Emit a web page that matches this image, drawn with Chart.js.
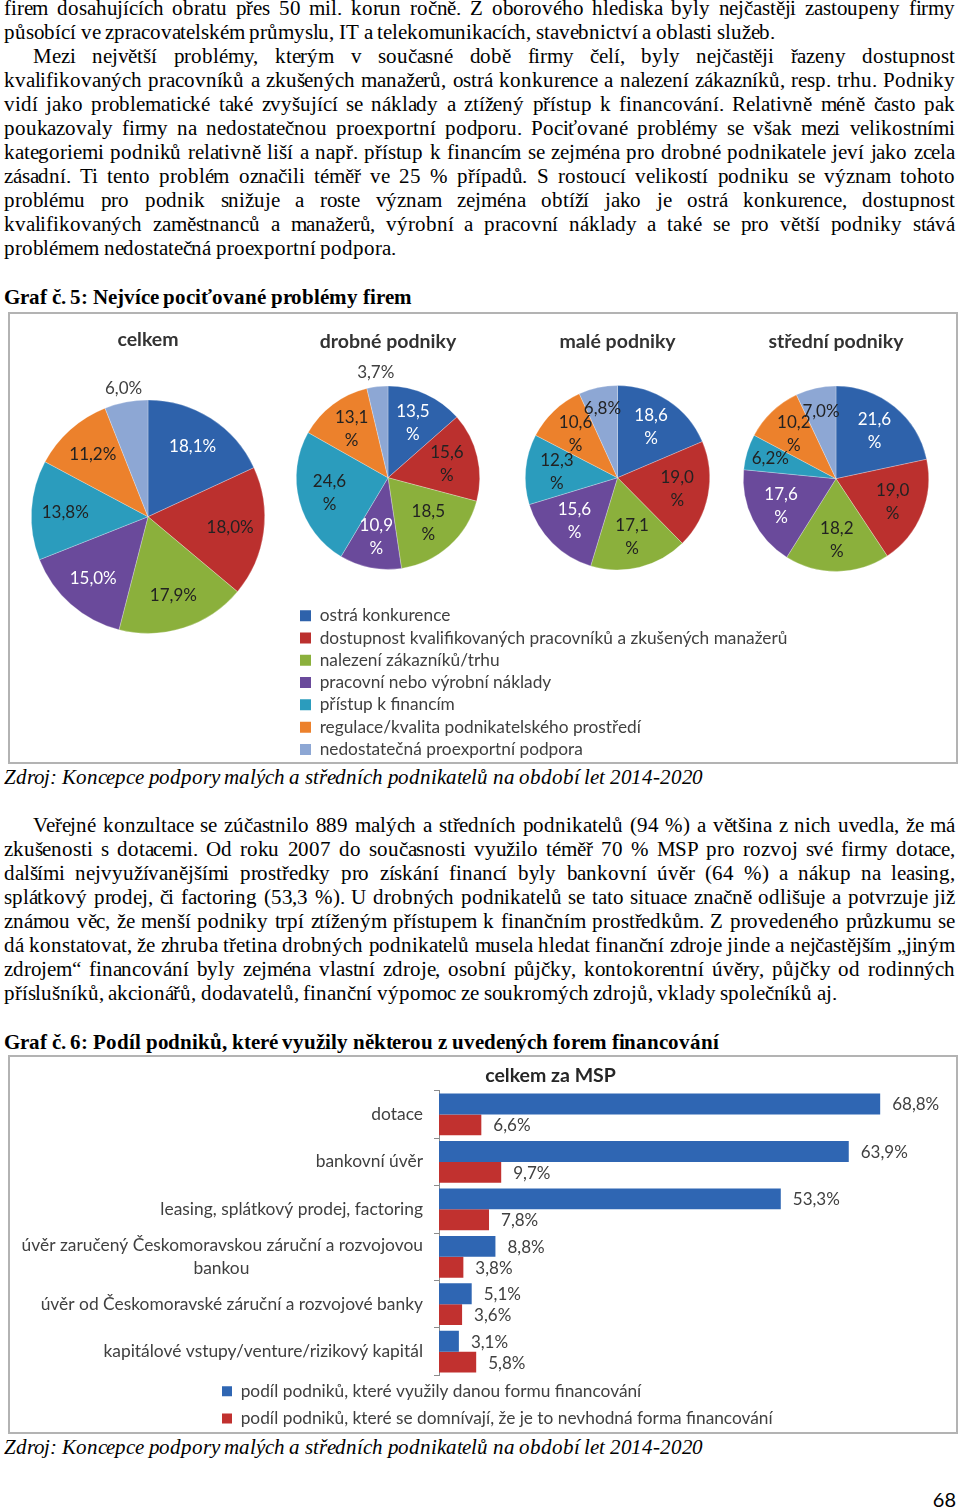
<!DOCTYPE html>
<html lang="cs">
<head>
<meta charset="utf-8">
<title>Graf č. 5 a 6</title>
<script src="https://cdn.jsdelivr.net/npm/chart.js@4.4.1/dist/chart.umd.min.js"></script>
<style>
@font-face{font-family:"DocSerif";src:local("Liberation Serif"),local("LiberationSerif"),local("Liberation Serif Regular"),local("LiberationSerif-Regular"),local("Times New Roman"),local("Tinos");font-weight:400;font-style:normal;}
@font-face{font-family:"DocSerif";src:local("Liberation Serif Bold"),local("LiberationSerif-Bold"),local("Times New Roman Bold");font-weight:700;font-style:normal;}
@font-face{font-family:"DocSerif";src:local("Liberation Serif Italic"),local("LiberationSerif-Italic"),local("Times New Roman Italic");font-weight:400;font-style:italic;}
html,body{margin:0;padding:0;background:#fff;}
body{width:960px;height:1509px;position:relative;overflow:hidden;font-family:"DocSerif","Liberation Serif","DejaVu Serif",serif;font-size:21px;color:#000;}
.ln{position:absolute;height:24px;line-height:24px;white-space:nowrap;font-family:"DocSerif","Liberation Serif","DejaVu Serif",serif;font-size:21px;letter-spacing:-0.13px;}
.hd{font-weight:bold;letter-spacing:-0.08px;}
.src{font-style:italic;letter-spacing:-0.15px;}
.box{position:absolute;border:2px solid #b3b3b3;box-sizing:border-box;}
canvas{position:absolute;}
#pg{position:absolute;right:4px;top:1486px;font-family:Lato,sans-serif;font-size:20px;line-height:26px;color:#000;}
</style>
</head>
<body>
<div id="text"></div>
<div class="box" style="left:8px;top:312px;width:950px;height:452px"></div>
<div class="box" style="left:8px;top:1055px;width:950px;height:379px"></div>
<canvas id="pie0"></canvas>
<canvas id="pie1"></canvas>
<canvas id="pie2"></canvas>
<canvas id="pie3"></canvas>
<canvas id="pieLegend" width="1100" height="180" style="left:295px;top:602px"></canvas>
<canvas id="bars" width="947" height="383" style="left:9px;top:1057px"></canvas>
<div id="pg">68</div>
<script>
// ---------- DATA ----------
const problemCategories = [
  'ostrá konkurence',
  'dostupnost kvalifikovaných pracovníků a zkušených manažerů',
  'nalezení zákazníků/trhu',
  'pracovní nebo výrobní náklady',
  'přístup k financím',
  'regulace/kvalita podnikatelského prostředí',
  'nedostatečná proexportní podpora'
];
const pieTitles = ['celkem', 'drobné podniky', 'malé podniky', 'střední podniky'];
const celkemValues  = [18.1, 18.0, 17.9, 15.0, 13.8, 11.2, 6.0];
const drobneValues  = [13.5, 15.6, 18.5, 10.9, 24.6, 13.1, 3.7];
const maleValues    = [18.6, 19.0, 17.1, 15.6, 12.3, 10.6, 6.8];
const stredniValues = [21.6, 19.0, 18.2, 17.6, 6.2, 10.2, 7.0];

const financingForms = [
  'dotace',
  'bankovní úvěr',
  'leasing, splátkový prodej, factoring',
  ['úvěr zaručený Českomoravskou záruční a rozvojovou', 'bankou'],
  'úvěr od Českomoravské záruční a rozvojové banky',
  'kapitálové vstupy/venture/rizikový kapitál'
];
const seriesNames = [
  'podíl podniků, které využily danou formu financování',
  'podíl podniků, které se domnívají, že je to nevhodná forma financování'
];
const usedValues       = [68.8, 63.9, 53.3, 8.8, 5.1, 3.1];
const unsuitableValues = [6.6, 9.7, 7.8, 3.8, 3.6, 5.8];
const barTitle = 'celkem za MSP';
const barAxisMax = 80;

// ---------- TEXT ----------
const para1 = [
  ['firem dosahujících obratu přes 50 mil. korun ročně. Z oborového hlediska byly nejčastěji zastoupeny firmy', 0, true],
  ['působící ve zpracovatelském průmyslu, IT a telekomunikacích, stavebnictví a oblasti služeb.', 0, false],
  ['Mezi největší problémy, kterým v současné době firmy čelí, byly nejčastěji řazeny dostupnost', 29, true],
  ['kvalifikovaných pracovníků a zkušených manažerů, ostrá konkurence a nalezení zákazníků, resp. trhu. Podniky', 0, true],
  ['vidí jako problematické také zvyšující se náklady a ztížený přístup k financování. Relativně méně často pak', 0, true],
  ['poukazovaly firmy na nedostatečnou proexportní podporu. Pociťované problémy se však mezi velikostními', 0, true],
  ['kategoriemi podniků relativně liší a např. přístup k financím se zejména pro drobné podnikatele jeví jako zcela', 0, true],
  ['zásadní. Ti tento problém označili téměř ve 25 % případů. S rostoucí velikostí podniku se význam tohoto', 0, true],
  ['problému pro podnik snižuje a roste význam zejména obtíží jako je ostrá konkurence, dostupnost', 0, true],
  ['kvalifikovaných zaměstnanců a manažerů, výrobní a pracovní náklady a také se pro větší podniky stává', 0, true],
  ['problémem nedostatečná proexportní podpora.', 0, false]
];
const para2 = [
  ['Veřejné konzultace se zúčastnilo 889 malých a středních podnikatelů (94 %) a většina z nich uvedla, že má', 29, true],
  ['zkušenosti s dotacemi. Od roku 2007 do současnosti využilo téměř 70 % MSP pro rozvoj své firmy dotace,', 0, true],
  ['dalšími nejvyužívanějšími prostředky pro získání financí byly bankovní úvěr (64 %) a nákup na leasing,', 0, true],
  ['splátkový prodej, či factoring (53,3 %). U drobných podnikatelů se tato situace značně odlišuje a potvrzuje již', 0, true],
  ['známou věc, že menší podniky trpí ztíženým přístupem k finančním prostředkům. Z provedeného průzkumu se', 0, true],
  ['dá konstatovat, že zhruba třetina drobných podnikatelů musela hledat finanční zdroje jinde a nejčastějším „jiným', 0, true],
  ['zdrojem“ financování byly zejména vlastní zdroje, osobní půjčky, kontokorentní úvěry, půjčky od rodinných', 0, true],
  ['příslušníků, akcionářů, dodavatelů, finanční výpomoc ze soukromých zdrojů, vklady společníků aj.', 0, false]
];
const sourceText = 'Zdroj: Koncepce podpory malých a středních podnikatelů na období let 2014-2020';
const textBlocks = [
  {top: -4.5, cls: '', lines: para1},
  {top: 284.5, cls: 'hd', lines: [['Graf č. 5: Nejvíce pociťované problémy firem', 0, false]]},
  {top: 764.5, cls: 'src', lines: [[sourceText, 0, false]]},
  {top: 812.5, cls: '', lines: para2},
  {top: 1029.5, cls: 'hd', lines: [['Graf č. 6: Podíl podniků, které využily některou z uvedených forem financování', 0, false]]},
  {top: 1434.5, cls: 'src', lines: [[sourceText, 0, false]]}
];
const TEXT_LEFT = 4, TEXT_WIDTH = 951;
const textRoot = document.getElementById('text');
const textEls = [];
textBlocks.forEach(b => {
  b.lines.forEach((l, k) => {
    const [t, indent, just] = l;
    const d = document.createElement('div');
    d.className = b.cls ? 'ln ' + b.cls : 'ln';
    d.style.top = (b.top + k * 24) + 'px';
    d.style.left = (TEXT_LEFT + indent) + 'px';
    const s = document.createElement('span');
    s.textContent = t;
    d.appendChild(s);
    textRoot.appendChild(d);
    if (just) textEls.push({d, s, t, indent});
  });
});
function justifyAll() {
  textEls.forEach(({d, s, t, indent}) => {
    d.style.wordSpacing = '0px';
    const w = s.getBoundingClientRect().width;
    const n = (t.match(/ /g) || []).length;
    if (n > 0) d.style.wordSpacing = ((TEXT_WIDTH - indent - w) / n) + 'px';
  });
}
justifyAll();
if (document.fonts && document.fonts.ready) document.fonts.ready.then(justifyAll);

// ---------- CHART HELPERS ----------
Chart.defaults.font.family = 'Lato';
const problemColors = ['#2e62ab', '#bb302e', '#8bb03c', '#6a4a9b', '#2b9cbd', '#ec812c', '#8da7d4'];
const pieLabelColors = ['#ffffff', '#222222', '#222222', '#ffffff', '#222222', '#222222', '#222222'];
const fmt = v => v.toFixed(1).replace('.', ',');

const pieValueLabels = {
  id: 'pieValueLabels',
  afterDatasetsDraw(chart, args, o) {
    const ctx = chart.ctx, meta = chart.getDatasetMeta(0), vals = chart.data.datasets[0].data;
    ctx.save();
    ctx.font = o.fontSize + 'px Lato';
    ctx.textAlign = 'center';
    ctx.textBaseline = 'middle';
    meta.data.forEach((arc, i) => {
      const p = arc.getProps(['x', 'y', 'startAngle', 'endAngle', 'outerRadius'], true);
      const mid = (p.startAngle + p.endAngle) / 2;
      const v = vals[i], t = fmt(v);
      let r, lines, color;
      if (v < o.outsideBelow) { r = p.outerRadius + o.outsideGap; lines = [t + '%']; color = o.outsideColor; }
      else if (!o.twoLine || v < o.singleBelow) { r = p.outerRadius * (o.twoLine ? o.smallFactor : o.factor); lines = [t + '%']; color = pieLabelColors[i]; }
      else { r = p.outerRadius * o.factor; lines = [t, '%']; color = pieLabelColors[i]; }
      const x = p.x + Math.cos(mid) * r, y = p.y + Math.sin(mid) * r;
      ctx.fillStyle = color;
      lines.forEach((ln, k) => ctx.fillText(ln, x, y + (k - (lines.length - 1) / 2) * o.lineGap));
    });
    ctx.restore();
  }
};

const pieLayouts = [
  {cx: 148, cy: 517, r: 117, titleY: 340, label: {factor: 0.71, twoLine: false, outsideBelow: 7}},
  {cx: 388, cy: 478, r: 92, titleY: 342, label: {factor: 0.66, twoLine: true, outsideBelow: 5, singleBelow: 8, smallFactor: 0.75}},
  {cx: 617, cy: 478, r: 92.5, titleY: 342, label: {factor: 0.66, twoLine: true, outsideBelow: 5, singleBelow: 8, smallFactor: 0.77}},
  {cx: 836, cy: 479, r: 93, titleY: 342, label: {factor: 0.66, twoLine: true, outsideBelow: 5, singleBelow: 8, smallFactor: 0.74}}
];
const pieValues = [celkemValues, drobneValues, maleValues, stredniValues];

pieLayouts.forEach((L, idx) => {
  const pad = 22;
  const cv = document.getElementById('pie' + idx);
  const W = Math.round(2 * L.r + 2 * pad);
  const T = L.titleY - 11.7 - 4;
  const H = Math.round(L.cy + L.r + 6 - T);
  cv.width = W; cv.height = H;
  cv.style.left = (L.cx - L.r - pad) + 'px';
  cv.style.top = T + 'px';
  new Chart(cv, {
    type: 'pie',
    data: {
      labels: problemCategories,
      datasets: [{data: pieValues[idx], backgroundColor: problemColors, borderColor: 'rgba(255,255,255,0.45)', borderWidth: 0.6}]
    },
    options: {
      responsive: false,
      animation: false,
      events: [],
      layout: {padding: {left: pad, right: pad, top: 0, bottom: H - (L.cy + L.r - T)}},
      plugins: {
        legend: {display: false},
        tooltip: {enabled: false},
        title: {
          display: true, text: pieTitles[idx], color: '#333333',
          font: {family: 'Lato', size: 19.5, weight: 'bold'},
          padding: {top: 4, bottom: L.cy - L.r - L.titleY - 11.7}
        },
        pieValueLabels: Object.assign({fontSize: 17, lineGap: 23, outsideGap: 14, outsideColor: '#404040'}, L.label)
      }
    },
    plugins: [pieValueLabels]
  });
});

// legend for the pies
new Chart(document.getElementById('pieLegend'), {
  type: 'pie',
  data: {labels: problemCategories, datasets: [{data: celkemValues, backgroundColor: problemColors, borderWidth: 0, radius: 0}]},
  options: {
    responsive: false, animation: false, events: [], radius: 0,
    plugins: {
      tooltip: {enabled: false},
      legend: {
        position: 'left', align: 'start',
        labels: {boxWidth: 11, boxHeight: 11, padding: 5, color: '#404040', font: {family: 'Lato', size: 17.3}}
      }
    }
  }
});

// ---------- BAR CHART ----------
function centerLines(lines, font) {
  const c = document.createElement('canvas').getContext('2d');
  c.font = font;
  const w = lines.map(l => c.measureText(l).width);
  const max = Math.max(...w);
  const sp = c.measureText(' ').width;
  return lines.map((l, k) => l + ' '.repeat(Math.max(0, Math.round((max - w[k]) / 2 / sp))));
}

const barValueLabels = {
  id: 'barValueLabels',
  afterDatasetsDraw(chart, args, o) {
    const ctx = chart.ctx;
    ctx.save();
    ctx.font = o.fontSize + 'px Lato';
    ctx.fillStyle = o.color;
    ctx.textAlign = 'left';
    ctx.textBaseline = 'middle';
    chart.data.datasets.forEach((ds, di) => {
      chart.getDatasetMeta(di).data.forEach((bar, i) => {
        const p = bar.getProps(['x', 'y'], true);
        ctx.fillText(fmt(ds.data[i]) + '%', p.x + o.gap, p.y + 1);
      });
    });
    ctx.restore();
  }
};

const boxShift = {
  id: 'boxShift',
  afterLayout(chart, args, o) {
    if (chart.titleBlock && o.titleDx) {
      chart.titleBlock.left += o.titleDx;
      chart.titleBlock.right += o.titleDx;
    }
    if (chart.legend && o.legendLeft != null) {
      const h = chart.legend.bottom - chart.legend.top;
      chart.legend.left = o.legendLeft;
      chart.legend.right = chart.width;
      chart.legend.top = o.legendTop;
      chart.legend.bottom = o.legendTop + h;
    }
  }
};

const AXIS_FONT = 17.4;
new Chart(document.getElementById('bars'), {
  type: 'bar',
  data: {
    labels: financingForms,
    datasets: [
      {label: seriesNames[0], data: usedValues, backgroundColor: '#2f66b3', borderWidth: 0, categoryPercentage: 0.88, barPercentage: 1},
      {label: seriesNames[1], data: unsuitableValues, backgroundColor: '#c1312f', borderWidth: 0, categoryPercentage: 0.88, barPercentage: 1}
    ]
  },
  options: {
    indexAxis: 'y',
    responsive: false,
    animation: false,
    events: [],
    layout: {padding: {left: 0, right: 4, top: 0, bottom: 0}},
    scales: {
      x: {display: false, min: 0, max: barAxisMax},
      y: {
        afterFit(s) { s.width = 430; },
        grid: {drawOnChartArea: false, drawTicks: true, tickLength: 5, color: '#8c8c8c'},
        border: {display: true, color: '#8c8c8c'},
        ticks: {
          padding: 11, color: '#404040', autoSkip: false,
          font: {family: 'Lato', size: AXIS_FONT, lineHeight: 1.28},
          callback(v) {
            const l = this.getLabelForValue(v);
            return Array.isArray(l) ? centerLines(l, AXIS_FONT + 'px Lato') : l;
          }
        }
      }
    },
    plugins: {
      tooltip: {enabled: false},
      title: {
        display: true, text: barTitle, color: '#262626',
        font: {family: 'Lato', size: 19.5, weight: 'bold'},
        padding: {top: 7.1, bottom: 3.2}
      },
      legend: {
        position: 'bottom', align: 'start', fullSize: false,
        labels: {boxWidth: 10, boxHeight: 10, padding: 10, color: '#404040', font: {family: 'Lato', size: 17.3}}
      },
      barValueLabels: {fontSize: 17, color: '#404040', gap: 12},
      boxShift: {titleDx: 70, legendLeft: 203, legendTop: 315.5}
    }
  },
  plugins: [barValueLabels, boxShift]
});
</script>
</body>
</html>
